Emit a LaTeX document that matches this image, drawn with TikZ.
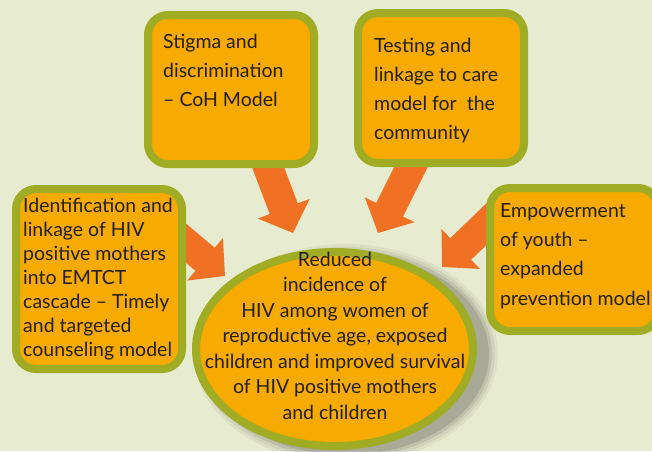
\documentclass[tikz,border=0pt]{standalone}
\usepackage{fontspec}
\setmainfont{Lato}
\usetikzlibrary{arrows.meta,shapes.geometric,calc}
\definecolor{bgc}{HTML}{E7EBCF}
\definecolor{boxfill}{HTML}{F7AA00}
\definecolor{olivec}{HTML}{A0AC24}
\definecolor{arrowc}{HTML}{F17124}
\definecolor{textc}{HTML}{231F20}
\pgfdeclarelayer{back}
\pgfsetlayers{back,main}
\begin{document}
\begin{tikzpicture}[x=1pt,y=-1pt,
  box/.style={rectangle, draw=olivec, line width=8pt, fill=boxfill, rounded corners=20pt, inner sep=0pt},
  oval/.style={ellipse, draw=olivec, line width=8pt, fill=boxfill, inner sep=0pt},
  label/.style={text=textc, inner sep=0pt, align=left, anchor=base west},
  bigarrow/.style={draw=arrowc, line width=30pt, -{Triangle[length=26pt,width=54pt]}}
]
\useasboundingbox (0,0) rectangle (652,451);

% shadow of the ellipse
\foreach \r/\o in {10/0.05, 7/0.07, 4/0.10, 1/0.14}{
  \fill[black!85, opacity=\o] (346,354) ellipse [x radius={142+\r}, y radius={100+\r}];
}

% outcome ellipse
\node[oval, minimum width=277pt, minimum height=194pt] (goal) at (334.5,349) {};
\node[text=textc, inner sep=0pt, align=center, anchor=base, font=\fontsize{19.5}{25.5}\selectfont] (goaltext) at (335,419)
  {Reduced\\incidence of\\HIV among women of\\reproductive age, exposed\\children and improved survival\\of HIV positive mothers\\and children};

% boxes
\node[box, minimum width=166pt, minimum height=149pt] (stigma) at (231,89.5) {};
\node[box, minimum width=166pt, minimum height=150pt] (testing) at (441,88) {};
\node[box, minimum width=166pt, minimum height=180pt] (ident) at (99,279) {};
\node[box, minimum width=168pt, minimum height=143pt] (youth) at (574,259.5) {};

\node[label, font=\fontsize{19.5}{29}\selectfont] (stigmatext) at (163,106)
  {Stigma and\\discrimination\\– CoH Model};
\node[label, font=\fontsize{19.5}{29}\selectfont] (testingtext) at (374,139)
  {Testing and\\linkage to care\\model for\ \ the\\community};
\node[label, font=\fontsize{19.5}{24}\selectfont] (identtext) at (23,356)
  {Identification and\\linkage of HIV\\positive mothers\\into EMTCT\\cascade – Timely\\and targeted\\counseling model};
\node[label, font=\fontsize{19.5}{29.3}\selectfont] (youthtext) at (500,305)
  {Empowerment\\of youth –\\expanded\\prevention model};

% arrows and background
\coordinate (tip1) at (293,233);
\coordinate (tip2) at (378,233);
\coordinate (tip3) at (225,276);
\coordinate (tip4) at (442,267);
\begin{pgfonlayer}{back}
  \fill[bgc] (0,0) rectangle (652,451);
  \draw[bigarrow] ($(stigma.south)+(30.5,-18)$) -- (tip1);
  \draw[bigarrow] ($(testing.south)+(-23,-14)$) -- (tip2);
  \draw[bigarrow] ($(ident.east)+(-23.5,-55.5)$) -- (tip3);
  \draw[bigarrow] ($(youth.west)+(12,-46.5)$) -- (tip4);
\end{pgfonlayer}
\end{tikzpicture}
\end{document}
